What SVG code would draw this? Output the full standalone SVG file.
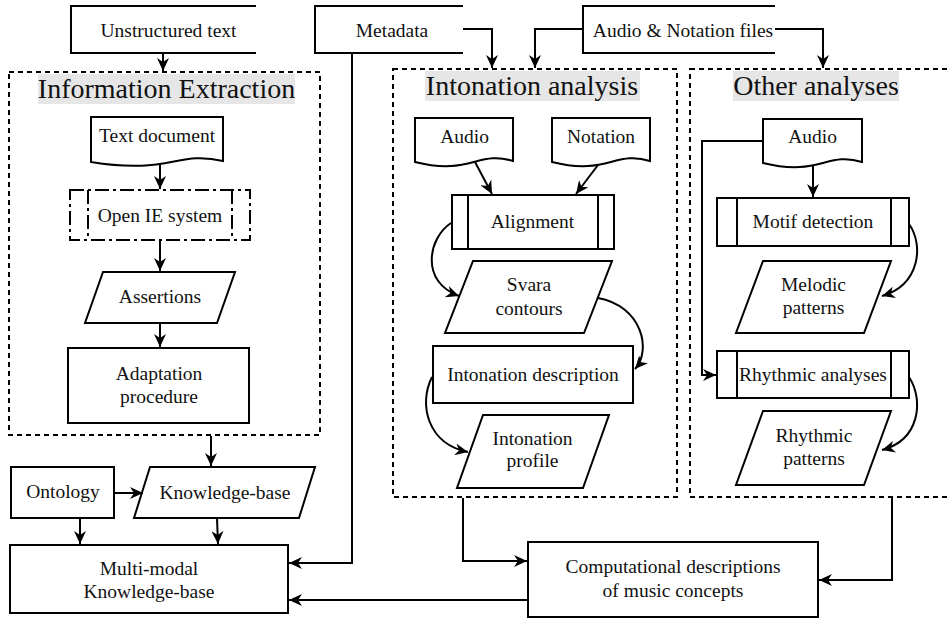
<svg xmlns="http://www.w3.org/2000/svg" width="949" height="618" viewBox="0 0 949 618">
<defs>
<marker id="ah" markerUnits="userSpaceOnUse" markerWidth="14" markerHeight="12" refX="13" refY="6" orient="auto">
<path d="M0,0 L13,6 L0,12 L4,6 z" fill="#000"/>
</marker>
<style>
.s{fill:#fff;stroke:#000;stroke-width:2}
.ln{fill:none;stroke:#000;stroke-width:2}
.fr{fill:none;stroke:#000;stroke-width:2;stroke-dasharray:5,4}
.c{fill:none;stroke:#000;stroke-width:2;marker-end:url(#ah)}
.t{font-size:19.5px;fill:#111;text-anchor:middle}
.h{font-size:28px;fill:#111;text-anchor:middle}
.bg{fill:#e6e6e6}
.dd{fill:#fff;stroke:#000;stroke-width:2;stroke-dasharray:14,4,3,4}
</style>
</defs>
<rect width="949" height="618" fill="#fff"/>
<g font-family="Liberation Serif, DejaVu Serif, serif">

<g id="frame-info">
<rect class="fr" x="9" y="72" width="311" height="363"/>
<rect class="bg" x="38" y="74" width="257" height="30"/>
<text class="h" x="166.5" y="98">Information Extraction</text>
</g>
<g id="frame-intonation">
<rect class="fr" x="393" y="69" width="284" height="428"/>
<rect class="bg" x="425" y="71" width="215" height="30"/>
<text class="h" x="532" y="95">Intonation analysis</text>
</g>
<g id="frame-other">
<rect class="fr" x="690" y="69" width="270" height="428"/>
<rect class="bg" x="733" y="71" width="166" height="30"/>
<text class="h" x="816" y="95">Other analyses</text>
</g>

<g id="unstructured">
<path class="s" d="M256,6 H71 V53 H256"/>
<text class="t" x="168.5" y="37">Unstructured text</text>
</g>
<g id="metadata">
<path class="s" d="M463,6 H315 V53 H463"/>
<text class="t" x="392" y="37">Metadata</text>
</g>
<g id="audio-notation-files">
<path class="s" d="M775,6 H583 V53 H775"/>
<text class="t" x="683" y="37">Audio &amp; Notation files</text>
</g>

<g id="text-document">
<path class="s" d="M91,117 H223 V161 C177,150 170,175 91,162 Z"/>
<text class="t" x="157" y="142">Text document</text>
</g>
<g id="open-ie">
<rect class="dd" x="70" y="190" width="180" height="50"/>
<line class="dd" x1="88" y1="190" x2="88" y2="240"/>
<line class="dd" x1="232" y1="190" x2="232" y2="240"/>
<text class="t" x="160" y="222">Open IE system</text>
</g>
<g id="assertions">
<polygon class="s" points="103,272 235,272 217,323 85,323"/>
<text class="t" x="160" y="303">Assertions</text>
</g>
<g id="adaptation">
<rect class="s" x="68" y="348" width="181" height="75"/>
<text class="t" x="159" y="380">Adaptation</text>
<text class="t" x="159" y="403">procedure</text>
</g>

<g id="ontology">
<rect class="s" x="11" y="467" width="103" height="51"/>
<text class="t" x="63" y="498">Ontology</text>
</g>
<g id="knowledge-base">
<polygon class="s" points="150,467 315,467 299,518 134,518"/>
<text class="t" x="225" y="499">Knowledge-base</text>
</g>
<g id="multimodal">
<rect class="s" x="10" y="545" width="278" height="68"/>
<text class="t" x="149" y="575">Multi-modal</text>
<text class="t" x="149" y="598">Knowledge-base</text>
</g>
<g id="computational">
<rect class="s" x="528" y="542" width="290" height="75"/>
<text class="t" x="673" y="573">Computational descriptions</text>
<text class="t" x="673" y="597">of music concepts</text>
</g>

<g id="int-audio">
<path class="s" d="M415,118 H513 V161 C478,150 470,176 415,162 Z"/>
<text class="t" x="464.5" y="143">Audio</text>
</g>
<g id="int-notation">
<path class="s" d="M552,118 H650 V161 C615,150 607,176 552,162 Z"/>
<text class="t" x="601" y="143">Notation</text>
</g>
<g id="alignment">
<rect class="s" x="452" y="195" width="162" height="54"/>
<line class="ln" x1="468" y1="195" x2="468" y2="249"/>
<line class="ln" x1="598" y1="195" x2="598" y2="249"/>
<text class="t" x="532.5" y="228">Alignment</text>
</g>
<g id="svara">
<polygon class="s" points="473,261 612,261 584,333 445,333"/>
<text class="t" x="529" y="291">Svara</text>
<text class="t" x="529" y="315">contours</text>
</g>
<g id="int-description">
<rect class="s" x="433" y="346" width="200" height="57"/>
<text class="t" x="533" y="381">Intonation description</text>
</g>
<g id="int-profile">
<polygon class="s" points="483,415 609,415 583,488 457,488"/>
<text class="t" x="532.5" y="445">Intonation</text>
<text class="t" x="532.5" y="467">profile</text>
</g>

<g id="oth-audio">
<path class="s" d="M763,119 H862 V162 C827,151 819,177 763,163 Z"/>
<text class="t" x="812.5" y="143">Audio</text>
</g>
<g id="motif">
<rect class="s" x="717" y="198" width="192" height="48"/>
<line class="ln" x1="737" y1="198" x2="737" y2="246"/>
<line class="ln" x1="891" y1="198" x2="891" y2="246"/>
<text class="t" x="813" y="228">Motif detection</text>
</g>
<g id="melodic">
<polygon class="s" points="763,261 891,261 864,333 736,333"/>
<text class="t" x="813.5" y="291">Melodic</text>
<text class="t" x="813.5" y="314">patterns</text>
</g>
<g id="rhythmic-analyses">
<rect class="s" x="717" y="351" width="192" height="47"/>
<line class="ln" x1="737" y1="351" x2="737" y2="398"/>
<line class="ln" x1="891" y1="351" x2="891" y2="398"/>
<text class="t" x="813" y="381">Rhythmic analyses</text>
</g>
<g id="rhythmic-patterns">
<polygon class="s" points="763,411 891,411 864,485 736,485"/>
<text class="t" x="814" y="442">Rhythmic</text>
<text class="t" x="814" y="465">patterns</text>
</g>

<g id="connectors">
<path class="c" d="M163,53 V71"/>
<path class="c" d="M463,29 H492 V68"/>
<path class="c" d="M583,29 H535 V68"/>
<path class="c" d="M775,29 H823 V68"/>
<path class="c" d="M352,53 V563 H289"/>
<path class="c" d="M160,165 V189"/>
<path class="c" d="M160,240 V271"/>
<path class="c" d="M160,323 V347"/>
<path class="c" d="M211,436 V466"/>
<path class="c" d="M114,493 H143"/>
<path class="c" d="M80,518 V544"/>
<path class="c" d="M217,518 L218,544"/>
<path class="c" d="M463,498 V561 H527"/>
<path class="c" d="M892,498 V580 H819"/>
<path class="c" d="M528,600 H289"/>
<path class="c" d="M475,162 L492,194"/>
<path class="c" d="M598,165 L576,194"/>
<path class="c" d="M451,223 C428,238 420,282 459,296"/>
<path class="c" d="M598,298 C642,306 652,350 635,369"/>
<path class="c" d="M432,377 C418,405 428,444 468,452"/>
<path class="c" d="M813,165 V197"/>
<path class="c" d="M763,141 H702 V375 H716"/>
<path class="c" d="M909,224 C924,245 920,285 882,296"/>
<path class="c" d="M909,377 C924,400 920,440 882,450"/>
</g>
</g>
</svg>
